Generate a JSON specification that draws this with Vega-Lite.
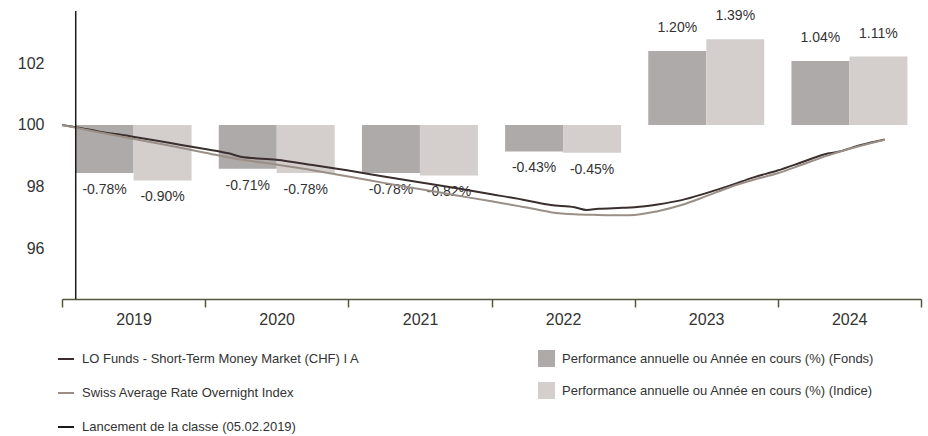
{
  "$schema": "https://vega.github.io/schema/vega-lite/v6.json",
  "width": 859,
  "height": 288,
  "autosize": {"type": "none"},
  "padding": {"left": 62, "top": 11, "right": 7, "bottom": 137},
  "background": "white",
  "config": {
    "view": {"stroke": null},
    "font": "Liberation Sans",
    "text": {"font": "Liberation Sans", "fontSize": 14, "fill": "#333333"}
  },
  "layer": [
    {
      "data": {
        "values": [
          {"year": "2019", "serie": "Performance annuelle ou Année en cours (%) (Fonds)", "value": -0.78, "label": "-0.78%"},
          {"year": "2019", "serie": "Performance annuelle ou Année en cours (%) (Indice)", "value": -0.90, "label": "-0.90%"},
          {"year": "2020", "serie": "Performance annuelle ou Année en cours (%) (Fonds)", "value": -0.71, "label": "-0.71%"},
          {"year": "2020", "serie": "Performance annuelle ou Année en cours (%) (Indice)", "value": -0.78, "label": "-0.78%"},
          {"year": "2021", "serie": "Performance annuelle ou Année en cours (%) (Fonds)", "value": -0.78, "label": "-0.78%"},
          {"year": "2021", "serie": "Performance annuelle ou Année en cours (%) (Indice)", "value": -0.82, "label": "-0.82%"},
          {"year": "2022", "serie": "Performance annuelle ou Année en cours (%) (Fonds)", "value": -0.43, "label": "-0.43%"},
          {"year": "2022", "serie": "Performance annuelle ou Année en cours (%) (Indice)", "value": -0.45, "label": "-0.45%"},
          {"year": "2023", "serie": "Performance annuelle ou Année en cours (%) (Fonds)", "value": 1.20, "label": "1.20%"},
          {"year": "2023", "serie": "Performance annuelle ou Année en cours (%) (Indice)", "value": 1.39, "label": "1.39%"},
          {"year": "2024", "serie": "Performance annuelle ou Année en cours (%) (Fonds)", "value": 1.04, "label": "1.04%"},
          {"year": "2024", "serie": "Performance annuelle ou Année en cours (%) (Indice)", "value": 1.11, "label": "1.11%"}
        ]
      },
      "encoding": {
        "x": {"field": "year", "type": "nominal", "scale": {"paddingInner": 0.19, "paddingOuter": 0.095}, "axis": null},
        "xOffset": {"field": "serie", "type": "nominal", "scale": {"domain": ["Performance annuelle ou Année en cours (%) (Fonds)", "Performance annuelle ou Année en cours (%) (Indice)"], "paddingInner": 0, "paddingOuter": 0}},
        "y": {"field": "value", "type": "quantitative", "scale": {"domain": [-2.825, 1.85], "nice": false, "zero": false}, "axis": null}
      },
      "layer": [
        {
          "mark": {"type": "bar"},
          "encoding": {
            "fill": {
              "field": "serie", "type": "nominal",
              "scale": {"domain": ["Performance annuelle ou Année en cours (%) (Fonds)", "Performance annuelle ou Année en cours (%) (Indice)"], "range": ["#aeaaa9", "#d4cfcc"]},
              "legend": {"orient": "none", "legendX": 476, "legendY": 339, "title": null, "symbolType": "square", "symbolSize": 289, "symbolStrokeWidth": 0, "labelFontSize": 13, "labelColor": "#333333", "labelFont": "Liberation Sans", "labelOffset": 7, "labelLimit": 0, "rowPadding": 15, "padding": 0, "offset": 0}
            }
          }
        },
        {
          "transform": [{"filter": "datum.value < 0"}],
          "mark": {"type": "text", "dy": 17, "baseline": "middle", "align": "center"},
          "encoding": {"text": {"field": "label", "type": "nominal"}}
        },
        {
          "transform": [{"filter": "datum.value >= 0"}],
          "mark": {"type": "text", "dy": -23, "baseline": "middle", "align": "center"},
          "encoding": {"text": {"field": "label", "type": "nominal"}}
        }
      ]
    },
    {
      "layer": [
        {
          "data": {
            "values": [
              {"date": "2019-01-01", "serie": "LO Funds - Short-Term Money Market (CHF) I A", "value": 100.00},
              {"date": "2019-02-05", "serie": "LO Funds - Short-Term Money Market (CHF) I A", "value": 99.93},
              {"date": "2019-04-01", "serie": "LO Funds - Short-Term Money Market (CHF) I A", "value": 99.80},
              {"date": "2019-07-01", "serie": "LO Funds - Short-Term Money Market (CHF) I A", "value": 99.62},
              {"date": "2019-10-01", "serie": "LO Funds - Short-Term Money Market (CHF) I A", "value": 99.42},
              {"date": "2020-01-01", "serie": "LO Funds - Short-Term Money Market (CHF) I A", "value": 99.22},
              {"date": "2020-03-01", "serie": "LO Funds - Short-Term Money Market (CHF) I A", "value": 99.08},
              {"date": "2020-04-01", "serie": "LO Funds - Short-Term Money Market (CHF) I A", "value": 98.97},
              {"date": "2020-07-01", "serie": "LO Funds - Short-Term Money Market (CHF) I A", "value": 98.87},
              {"date": "2020-10-01", "serie": "LO Funds - Short-Term Money Market (CHF) I A", "value": 98.70},
              {"date": "2021-01-01", "serie": "LO Funds - Short-Term Money Market (CHF) I A", "value": 98.52},
              {"date": "2021-04-01", "serie": "LO Funds - Short-Term Money Market (CHF) I A", "value": 98.33},
              {"date": "2021-07-01", "serie": "LO Funds - Short-Term Money Market (CHF) I A", "value": 98.14},
              {"date": "2021-10-01", "serie": "LO Funds - Short-Term Money Market (CHF) I A", "value": 97.95},
              {"date": "2022-01-01", "serie": "LO Funds - Short-Term Money Market (CHF) I A", "value": 97.75},
              {"date": "2022-04-01", "serie": "LO Funds - Short-Term Money Market (CHF) I A", "value": 97.55},
              {"date": "2022-06-01", "serie": "LO Funds - Short-Term Money Market (CHF) I A", "value": 97.40},
              {"date": "2022-08-01", "serie": "LO Funds - Short-Term Money Market (CHF) I A", "value": 97.33},
              {"date": "2022-09-01", "serie": "LO Funds - Short-Term Money Market (CHF) I A", "value": 97.24},
              {"date": "2022-10-01", "serie": "LO Funds - Short-Term Money Market (CHF) I A", "value": 97.28},
              {"date": "2022-12-01", "serie": "LO Funds - Short-Term Money Market (CHF) I A", "value": 97.31},
              {"date": "2023-01-01", "serie": "LO Funds - Short-Term Money Market (CHF) I A", "value": 97.33},
              {"date": "2023-03-01", "serie": "LO Funds - Short-Term Money Market (CHF) I A", "value": 97.42},
              {"date": "2023-05-01", "serie": "LO Funds - Short-Term Money Market (CHF) I A", "value": 97.56},
              {"date": "2023-07-01", "serie": "LO Funds - Short-Term Money Market (CHF) I A", "value": 97.78},
              {"date": "2023-09-01", "serie": "LO Funds - Short-Term Money Market (CHF) I A", "value": 98.03},
              {"date": "2023-11-01", "serie": "LO Funds - Short-Term Money Market (CHF) I A", "value": 98.30},
              {"date": "2024-01-01", "serie": "LO Funds - Short-Term Money Market (CHF) I A", "value": 98.52},
              {"date": "2024-03-01", "serie": "LO Funds - Short-Term Money Market (CHF) I A", "value": 98.78},
              {"date": "2024-05-01", "serie": "LO Funds - Short-Term Money Market (CHF) I A", "value": 99.05},
              {"date": "2024-06-01", "serie": "LO Funds - Short-Term Money Market (CHF) I A", "value": 99.12},
              {"date": "2024-08-01", "serie": "LO Funds - Short-Term Money Market (CHF) I A", "value": 99.35},
              {"date": "2024-09-30", "serie": "LO Funds - Short-Term Money Market (CHF) I A", "value": 99.53},
              {"date": "2019-01-01", "serie": "Swiss Average Rate Overnight Index", "value": 100.00},
              {"date": "2019-04-01", "serie": "Swiss Average Rate Overnight Index", "value": 99.77},
              {"date": "2019-07-01", "serie": "Swiss Average Rate Overnight Index", "value": 99.55},
              {"date": "2019-10-01", "serie": "Swiss Average Rate Overnight Index", "value": 99.33},
              {"date": "2020-01-01", "serie": "Swiss Average Rate Overnight Index", "value": 99.10},
              {"date": "2020-04-01", "serie": "Swiss Average Rate Overnight Index", "value": 98.88},
              {"date": "2020-07-01", "serie": "Swiss Average Rate Overnight Index", "value": 98.72},
              {"date": "2020-10-01", "serie": "Swiss Average Rate Overnight Index", "value": 98.53},
              {"date": "2021-01-01", "serie": "Swiss Average Rate Overnight Index", "value": 98.33},
              {"date": "2021-04-01", "serie": "Swiss Average Rate Overnight Index", "value": 98.12},
              {"date": "2021-07-01", "serie": "Swiss Average Rate Overnight Index", "value": 97.92},
              {"date": "2021-10-01", "serie": "Swiss Average Rate Overnight Index", "value": 97.72},
              {"date": "2022-01-01", "serie": "Swiss Average Rate Overnight Index", "value": 97.52},
              {"date": "2022-04-01", "serie": "Swiss Average Rate Overnight Index", "value": 97.32},
              {"date": "2022-06-01", "serie": "Swiss Average Rate Overnight Index", "value": 97.17},
              {"date": "2022-08-01", "serie": "Swiss Average Rate Overnight Index", "value": 97.10},
              {"date": "2022-10-01", "serie": "Swiss Average Rate Overnight Index", "value": 97.08},
              {"date": "2022-12-01", "serie": "Swiss Average Rate Overnight Index", "value": 97.07},
              {"date": "2023-01-01", "serie": "Swiss Average Rate Overnight Index", "value": 97.08},
              {"date": "2023-03-01", "serie": "Swiss Average Rate Overnight Index", "value": 97.20},
              {"date": "2023-05-01", "serie": "Swiss Average Rate Overnight Index", "value": 97.40},
              {"date": "2023-07-01", "serie": "Swiss Average Rate Overnight Index", "value": 97.68},
              {"date": "2023-09-01", "serie": "Swiss Average Rate Overnight Index", "value": 97.98},
              {"date": "2023-11-01", "serie": "Swiss Average Rate Overnight Index", "value": 98.22},
              {"date": "2024-01-01", "serie": "Swiss Average Rate Overnight Index", "value": 98.43},
              {"date": "2024-03-01", "serie": "Swiss Average Rate Overnight Index", "value": 98.70},
              {"date": "2024-05-01", "serie": "Swiss Average Rate Overnight Index", "value": 98.98},
              {"date": "2024-07-01", "serie": "Swiss Average Rate Overnight Index", "value": 99.22},
              {"date": "2024-09-30", "serie": "Swiss Average Rate Overnight Index", "value": 99.52}
            ]
          },
          "mark": {"type": "line", "interpolate": "monotone"},
          "encoding": {
            "x": {
              "field": "date", "type": "temporal",
              "scale": {"type": "utc", "domain": [{"year": 2019, "month": 1, "date": 1, "utc": true}, {"year": 2025, "month": 1, "date": 1, "utc": true}], "nice": false},
              "axis": {
                "title": null, "grid": false,
                "values": [{"year": 2019, "month": 1, "date": 1, "utc": true}, {"year": 2020, "month": 1, "date": 1, "utc": true}, {"year": 2021, "month": 1, "date": 1, "utc": true}, {"year": 2022, "month": 1, "date": 1, "utc": true}, {"year": 2023, "month": 1, "date": 1, "utc": true}, {"year": 2024, "month": 1, "date": 1, "utc": true}, {"year": 2025, "month": 1, "date": 1, "utc": true}],
                "labelExpr": "utcyear(datum.value) < 2025 ? utcFormat(datum.value, '%Y') : ''",
                "labelOffset": 71.6, "labelAlign": "center", "labelFlush": false, "labelOverlap": false,
                "labelFontSize": 16, "labelColor": "#333333", "labelPadding": 4, "labelFont": "Liberation Sans",
                "domainColor": "#55553f", "domainWidth": 1.5, "tickColor": "#55553f", "tickSize": 8, "tickWidth": 1.5
              }
            },
            "y": {
              "field": "value", "type": "quantitative",
              "scale": {"domain": [94.35, 103.7], "nice": false, "zero": false},
              "axis": {"title": null, "values": [96, 98, 100, 102], "domain": false, "ticks": false, "labelPadding": 18, "labelFontSize": 16, "labelColor": "#333333", "labelFont": "Liberation Sans", "gridColor": "#cfcfcf", "gridWidth": 1.2}
            },
            "stroke": {
              "field": "serie", "type": "nominal",
              "scale": {"domain": ["LO Funds - Short-Term Money Market (CHF) I A", "Swiss Average Rate Overnight Index", "Lancement de la classe (05.02.2019)"], "range": ["#3a2e2e", "#9a8e87", "#1a1a1a"]},
              "legend": {"orient": "none", "legendX": -5, "legendY": 339, "title": null, "symbolType": "stroke", "symbolSize": 256, "symbolStrokeWidth": 2, "labelFontSize": 13, "labelColor": "#333333", "labelFont": "Liberation Sans", "labelOffset": 7, "labelLimit": 0, "rowPadding": 18, "padding": 0, "offset": 0}
            },
            "strokeWidth": {"value": 2}
          }
        },
        {
          "data": {"values": [{"launch": "2019-02-05"}]},
          "mark": {"type": "rule", "strokeWidth": 1.5},
          "encoding": {
            "x": {"field": "launch", "type": "temporal"},
            "stroke": {"datum": "Lancement de la classe (05.02.2019)"}
          }
        }
      ]
    }
  ],
  "resolve": {"scale": {"x": "independent", "y": "independent"}}
}
